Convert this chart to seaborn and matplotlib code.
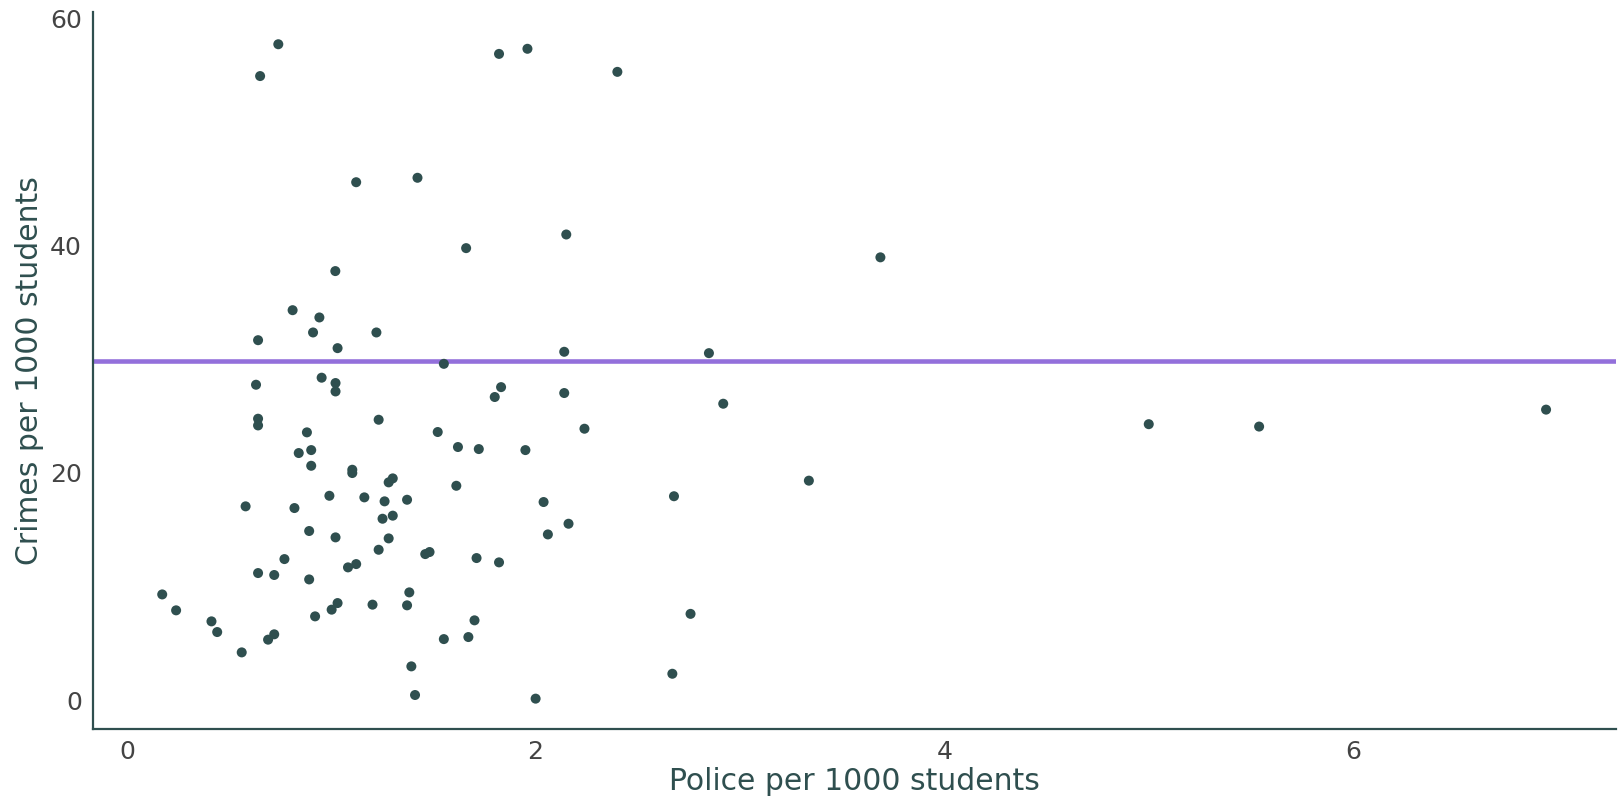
import matplotlib
matplotlib.use("Agg")
import matplotlib.pyplot as plt
import seaborn as sns
import pandas as pd

police = [0.632, 0.953, 1.021, 1.021, 1.831, 1.800, 2.140, 0.642, 0.642, 1.232,
          0.881, 1.521, 2.239, 1.620, 1.722, 1.950, 0.841, 0.902, 0.902, 1.103,
          1.103, 1.301, 1.281, 1.612, 0.991, 1.162, 1.261, 1.371, 2.039, 0.581,
          0.820, 1.251, 1.301, 2.161, 0.892, 1.021, 1.281, 2.060, 1.232, 1.460,
          1.481, 1.711, 1.821, 0.771, 0.642, 0.721, 0.892, 1.082, 1.122, 0.173,
          0.241, 1.031, 1.002, 1.202, 1.382, 1.371, 0.921, 0.414, 0.442, 0.721,
          0.691, 0.562, 1.701, 1.551, 1.671, 1.392, 1.410, 2.000,
          0.741, 0.652, 1.821, 1.960, 2.400, 1.122, 1.422, 1.660, 2.150, 1.020,
          0.811, 0.942, 0.911, 1.221, 0.642, 1.031, 2.140, 1.551,
          3.687, 2.848, 2.918, 2.677, 3.337, 2.758, 2.669,
          5.000, 5.540, 6.944]

crimes = [27.74, 28.36, 27.89, 27.15, 27.53, 26.66, 27.01, 24.75, 24.16, 24.66,
          23.55, 23.58, 23.87, 22.26, 22.08, 21.99, 21.73, 21.99, 20.61, 20.26,
          19.97, 19.50, 19.15, 18.85, 17.97, 17.83, 17.48, 17.62, 17.42, 17.04,
          16.89, 15.95, 16.22, 15.51, 14.87, 14.31, 14.22, 14.57, 13.22, 12.84,
          13.02, 12.49, 12.11, 12.40, 11.17, 11.00, 10.61, 11.67, 11.96, 9.29,
          7.89, 8.53, 7.95, 8.39, 9.47, 8.33, 7.36, 6.92, 5.98, 5.78,
          5.31, 4.19, 7.01, 5.36, 5.54, 2.96, 0.44, 0.12,
          57.70, 54.90, 56.85, 57.30, 55.27, 45.56, 45.95, 39.76, 40.96, 37.74,
          34.30, 33.66, 32.34, 32.34, 31.66, 30.96, 30.64, 29.58,
          38.95, 30.52, 26.07, 17.93, 19.30, 7.58, 2.31,
          24.27, 24.06, 25.55]

reference_line = 29.8
x_ticks = [0, 2, 4, 6]
y_ticks = [0, 20, 40, 60]

df = pd.DataFrame({"Police per 1000 students": police,
                   "Crimes per 1000 students": crimes})

sns.set_theme(style="white")
plt.rcParams["font.family"] = ["DejaVu Sans"]

fig = plt.figure(figsize=(16.19, 8.01), dpi=100)
ax = fig.add_axes([0.0574, 0.0899, 0.9406, 0.8946])

dark = "#2F4F4F"
sns.scatterplot(data=df, x="Police per 1000 students", y="Crimes per 1000 students",
                ax=ax, color=dark, s=52, edgecolor="none", linewidth=0, zorder=3)
ax.axhline(reference_line, color="#9370DB", linewidth=3.3, zorder=2)

ax.set_xlim(-0.166, 7.285)
ax.set_ylim(-2.55, 60.5)
ax.set_xticks(x_ticks)
ax.set_yticks(y_ticks)
ax.tick_params(axis="both", length=0, labelsize=18, labelcolor="#444444", pad=8)

for side in ["top", "right"]:
    ax.spines[side].set_visible(False)
for side in ["left", "bottom"]:
    ax.spines[side].set_color(dark)
    ax.spines[side].set_linewidth(1.6)

ax.set_xlabel("Police per 1000 students", fontsize=21.5, color=dark, labelpad=2)
ax.set_ylabel("Crimes per 1000 students", fontsize=21.5, color=dark, labelpad=4)
ax.grid(False)

fig.savefig("out.png", dpi=100)
